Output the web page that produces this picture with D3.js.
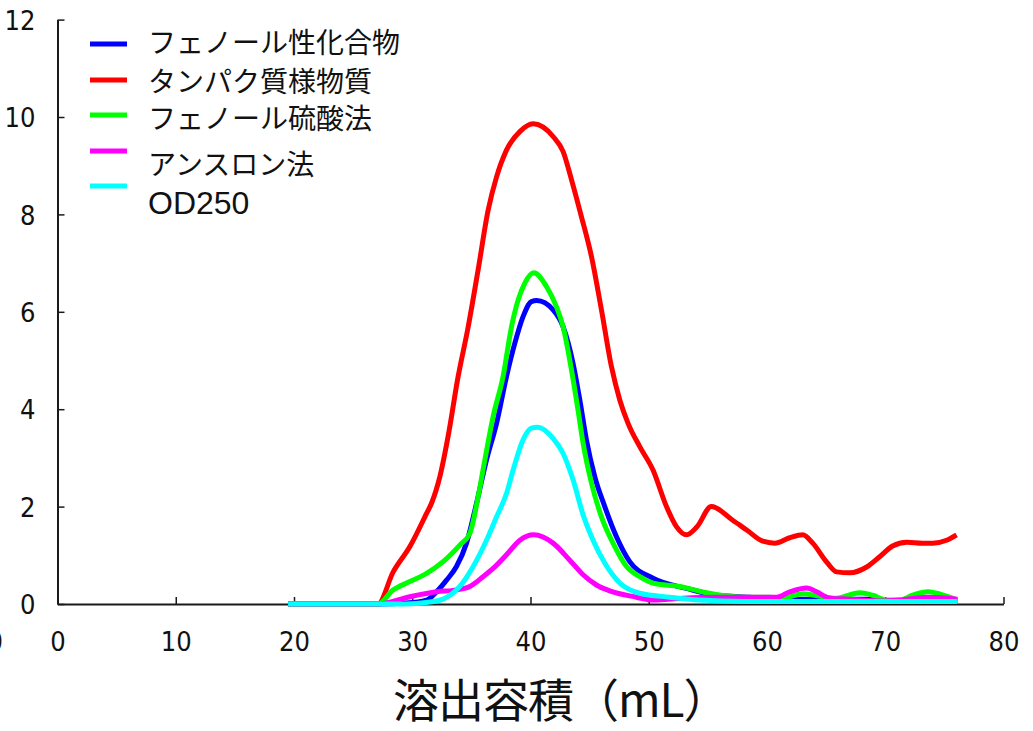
<!DOCTYPE html>
<html>
<head>
<meta charset="utf-8">
<script src="https://cdn.jsdelivr.net/npm/d3@7"></script>
<style>
  html, body { margin: 0; padding: 0; background: #fff; }
  svg { display: block; }
  .tick text { font-family: "Liberation Sans Narrow", "DejaVu Sans Condensed", "Liberation Sans", sans-serif; font-size: 27px; fill: #111; }
  .legend text { font-family: "Liberation Sans", "Noto Sans CJK JP", sans-serif; fill: #111; }
</style>
</head>
<body>
<svg id="chart" width="1033" height="731"></svg>
<script>
// Elution profile: each series is a list of [elution volume (mL), value]
const seriesNames = ["フェノール性化合物", "タンパク質様物質", "フェノール硫酸法", "アンスロン法", "OD250"];
const seriesColors = ["#0000ff", "#ff0000", "#00ff00", "#ff00ff", "#00ffff"];

const phenolics = [
  [19.5, 0], [27.1, 0], [29.5, 0.02], [31.2, 0.08], [32.05, 0.25], [32.9, 0.49], [33.74, 0.77],
  [34.59, 1.25], [35.44, 2.07], [36.28, 2.96], [37.13, 3.71], [37.97, 4.67], [38.67, 5.35],
  [39.37, 5.9], [40.08, 6.21], [40.53, 6.23], [41.91, 6.04], [42.76, 5.69], [43.6, 4.94],
  [44.17, 4.19], [44.73, 3.37], [45.44, 2.61], [46.28, 2.0], [47.27, 1.38], [48.39, 0.87],
  [50.36, 0.53], [53.19, 0.32], [55.72, 0.18], [58.54, 0.14], [61.33, 0.1], [64.2, 0.1],
  [68.43, 0.1], [69.78, 0.06], [72.5, 0.05], [76.1, 0.05]
];
const proteins = [
  [19.5, 0], [27.1, 0], [28.39, 0.66], [29.8, 1.18], [31.21, 1.86], [31.63, 2.07], [32.33, 2.61],
  [33.03, 3.44], [33.88, 4.67], [34.73, 5.69], [35.57, 6.86], [36.42, 8.09], [37.13, 8.77],
  [37.97, 9.32], [39.1, 9.7], [40.22, 9.86], [41.91, 9.6], [42.76, 9.29], [43.47, 8.71],
  [44.31, 7.95], [45.16, 7.13], [46.0, 6.04], [46.85, 4.87], [47.55, 4.19], [48.25, 3.71],
  [49.24, 3.23], [50.36, 2.75], [51.5, 2.0], [52.34, 1.59], [53.21, 1.42], [54.06, 1.58],
  [55.3, 2.0], [57.1, 1.72], [58.28, 1.52], [59.64, 1.29], [60.65, 1.25], [61.92, 1.36],
  [63.02, 1.42], [63.87, 1.25], [65.05, 0.86], [65.89, 0.66], [66.99, 0.64], [68.43, 0.76],
  [69.53, 0.97], [70.62, 1.19], [71.81, 1.27], [73.16, 1.25], [74.01, 1.25], [75.19, 1.31],
  [76.03, 1.42]
];
const phenolSulfuric = [
  [19.5, 0], [27.1, 0], [28.39, 0.29], [29.8, 0.46], [31.21, 0.63], [32.61, 0.87], [34.02, 1.21],
  [34.87, 1.45], [35.57, 2.2], [36.14, 2.96], [36.84, 3.85], [37.68, 4.67], [38.39, 5.69],
  [38.95, 6.24], [39.52, 6.59], [40.28, 6.8], [41.35, 6.52], [42.2, 6.1], [42.76, 5.69],
  [43.47, 4.8], [44.02, 3.98], [44.45, 3.3], [45.16, 2.48], [46.0, 1.79], [46.98, 1.25],
  [48.12, 0.77], [49.24, 0.56], [50.36, 0.43], [52.62, 0.36], [54.88, 0.23], [57.95, 0.14],
  [60.23, 0.14], [61.33, 0.12], [63.02, 0.21], [64.45, 0.16], [65.89, 0.12], [67.84, 0.23],
  [68.93, 0.18], [70.12, 0.08], [71.22, 0.08], [72.32, 0.18], [73.59, 0.25], [75.19, 0.16],
  [76.1, 0.08]
];
const anthrone = [
  [19.5, 0], [27.1, 0], [29.8, 0.15], [32.05, 0.25], [33.74, 0.29], [34.87, 0.36], [35.99, 0.56],
  [36.84, 0.73], [37.97, 1.01], [39.1, 1.31], [40.28, 1.42], [41.91, 1.25], [43.32, 0.9],
  [44.45, 0.6], [45.58, 0.39], [46.7, 0.27], [48.96, 0.14], [50.36, 0.08], [52.87, 0.12],
  [55.74, 0.14], [58.54, 0.14], [60.82, 0.14], [61.92, 0.25], [63.36, 0.33], [64.2, 0.25],
  [65.3, 0.12], [66.99, 0.1], [69.78, 0.06], [71.22, 0.08], [73.5, 0.14], [76.1, 0.1]
];
const od250 = [
  [19.5, 0], [29.5, 0], [31.2, 0.03], [32.61, 0.1], [34.02, 0.36], [35.15, 0.77], [36.28, 1.31],
  [37.13, 1.79], [37.97, 2.27], [38.53, 2.75], [39.37, 3.37], [40.08, 3.61], [40.62, 3.63],
  [41.91, 3.4], [42.76, 3.09], [43.6, 2.55], [44.45, 1.83], [45.29, 1.31], [46.28, 0.84],
  [47.55, 0.43], [49.24, 0.22], [51.77, 0.14], [54.31, 0.08], [58, 0.05], [76.1, 0.05]
];
const seriesData = [phenolics, proteins, phenolSulfuric, anthrone, od250];

const xTicks = [0, 10, 20, 30, 40, 50, 60, 70, 80];
const yTicks = [0, 2, 4, 6, 8, 10, 12];
const xTitle = "溶出容積（mL）";

const svg = d3.select("#chart");
const x = d3.scaleLinear().domain([0, 80]).range([57.5, 1003.5]);
const y = d3.scaleLinear().domain([0, 12]).range([604, 19.6]);

// axes with inward ticks
const axisColor = "#1a1a1a";
const gx = svg.append("g").attr("transform", `translate(0,${y(0)})`)
  .call(d3.axisBottom(x).tickValues(xTicks).tickSize(-7).tickSizeOuter(0).tickPadding(28).tickFormat(d3.format("d")));
const gy = svg.append("g").attr("transform", `translate(${x(0)},0)`)
  .call(d3.axisLeft(y).tickValues(yTicks).tickSize(-7).tickSizeOuter(0).tickPadding(22).tickFormat(d3.format("d")));
[gx, gy].forEach(g => {
  g.select(".domain").attr("stroke", axisColor).attr("stroke-width", 2);
  g.selectAll(".tick line").attr("stroke", axisColor).attr("stroke-width", 1.5);
  g.selectAll(".tick text").attr("fill", "#111");
});
gy.selectAll(".tick text").attr("dy", "0.36em");

// stray clipped label at the far left edge
svg.append("text").attr("x", 3).attr("y", 651).attr("text-anchor", "end")
  .attr("font-family", "\"Liberation Sans Narrow\", \"DejaVu Sans Condensed\", sans-serif")
  .attr("font-size", 27).attr("fill", "#111").text("0");

// series lines
const line = d3.line().x(d => x(d[0])).y(d => y(d[1])).curve(d3.curveMonotoneX);
seriesData.forEach((data, i) => {
  svg.append("path").datum(data)
    .attr("fill", "none")
    .attr("stroke", seriesColors[i])
    .attr("stroke-width", 5)
    .attr("stroke-linejoin", "round")
    .attr("d", line);
});

// legend
const legendLineY = [44, 80, 115, 151, 186];
const legendTextY = [53, 91.5, 128.5, 174.5, 214];
const legendFont = [28, 28, 28, 28, 32];
const legend = svg.append("g").attr("class", "legend");
seriesNames.forEach((name, i) => {
  legend.append("line")
    .attr("x1", 90).attr("x2", 127)
    .attr("y1", legendLineY[i]).attr("y2", legendLineY[i])
    .attr("stroke", seriesColors[i]).attr("stroke-width", 5);
  legend.append("text")
    .attr("x", 148).attr("y", legendTextY[i])
    .attr("font-size", legendFont[i])
    .text(name);
});

// x-axis title
svg.append("text")
  .attr("x", 393).attr("y", 717)
  .attr("text-anchor", "start")
  .attr("font-family", "\"Noto Sans CJK JP\", sans-serif")
  .attr("font-size", 46)
  .attr("letter-spacing", -1)
  .attr("fill", "#111")
  .text(xTitle);
</script>
</body>
</html>
